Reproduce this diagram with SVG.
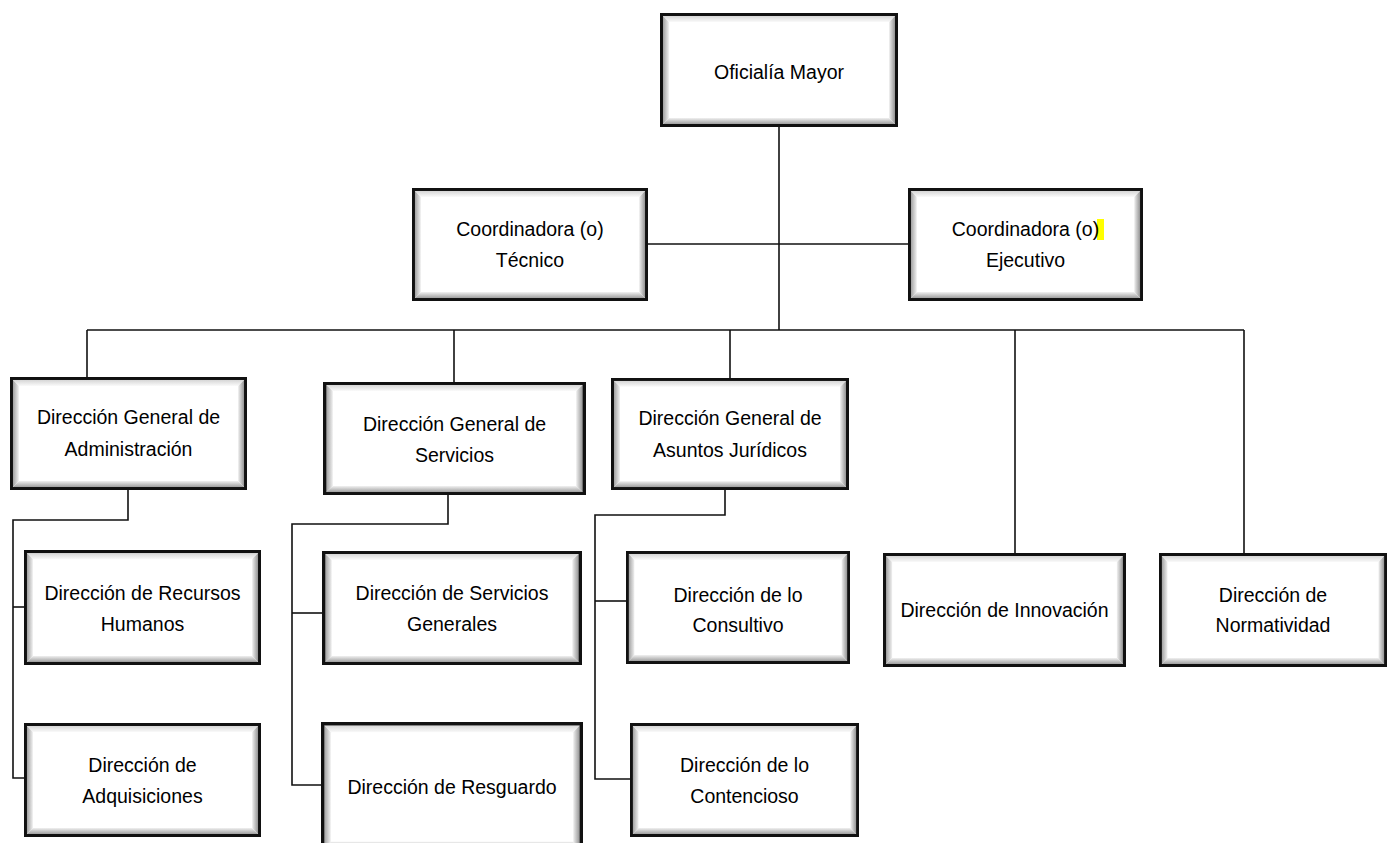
<svg xmlns="http://www.w3.org/2000/svg" xmlns:xlink="http://www.w3.org/1999/xlink" width="1388" height="843" viewBox="0 0 1388 843">
<defs>
<linearGradient id="gL" x1="0" y1="0" x2="1" y2="0"><stop offset="0" stop-color="#7a7a7a"/><stop offset="1" stop-color="#f0f0f0"/></linearGradient>
<linearGradient id="gR" x1="0" y1="0" x2="1" y2="0"><stop offset="0" stop-color="#f0f0f0"/><stop offset="1" stop-color="#666"/></linearGradient>
<linearGradient id="gT" x1="0" y1="0" x2="0" y2="1"><stop offset="0" stop-color="#c4c4c4"/><stop offset="1" stop-color="#fafafa"/></linearGradient>
<linearGradient id="gB" x1="0" y1="0" x2="0" y2="1"><stop offset="0" stop-color="#f0f0f0"/><stop offset="1" stop-color="#777"/></linearGradient>
<symbol id="box" viewBox="0 0 240 114" preserveAspectRatio="none">
<rect x="0" y="0" width="240" height="114" fill="#fff"/>
<polygon points="0,0 240,0 231,9 9,9" fill="url(#gT)"/>
<polygon points="0,0 9,9 9,105 0,114" fill="url(#gL)"/>
<polygon points="240,0 240,114 231,105 231,9" fill="url(#gR)"/>
<polygon points="0,114 240,114 231,105 9,105" fill="url(#gB)"/>
<rect x="1.5" y="1.5" width="237" height="111" fill="none" stroke="#111" stroke-width="3"/>
</symbol>
</defs>
<style>
.t{font-family:"Liberation Sans",Arial,sans-serif;font-size:19.5px;fill:#000;text-anchor:middle}
.c{fill:none;stroke:#111;stroke-width:1.6}
</style>
<rect width="1388" height="843" fill="#fff"/>
<g id="connectors" class="c">
<line x1="779" y1="127" x2="779" y2="330"/>
<line x1="648" y1="244" x2="908" y2="244"/>
<line x1="87" y1="330" x2="1244" y2="330"/>
<line x1="87" y1="330" x2="87" y2="377"/>
<line x1="454" y1="330" x2="454" y2="382"/>
<line x1="730" y1="330" x2="730" y2="378"/>
<line x1="1015" y1="330" x2="1015" y2="553"/>
<line x1="1244" y1="330" x2="1244" y2="553"/>
<polyline points="128,490 128,520 13,520 13,778 24,778"/>
<line x1="13" y1="607" x2="24" y2="607"/>
<polyline points="448,495 448,524 292,524 292,785 321,785"/>
<line x1="292" y1="613" x2="322" y2="613"/>
<polyline points="725,490 725,515 595,515 595,779 630,779"/>
<line x1="595" y1="601" x2="626" y2="601"/>
</g>
<g id="n1"><use xlink:href="#box" x="660" y="13" width="238" height="114"/><text class="t" x="779" y="79">Oficialía Mayor</text></g>
<g id="n2"><use xlink:href="#box" x="412" y="188" width="236" height="113"/><text class="t" x="530" y="236">Coordinadora (o)</text><text class="t" x="530" y="267">Técnico</text></g>
<g id="n3"><use xlink:href="#box" x="908" y="188" width="235" height="113"/><rect x="1097" y="219" width="7" height="21" fill="#ffff00"/><text class="t" x="1025.5" y="236">Coordinadora (o)</text><text class="t" x="1025.5" y="267">Ejecutivo</text></g>
<g id="n4"><use xlink:href="#box" x="10" y="377" width="237" height="113"/><text class="t" x="128.5" y="424">Dirección General de</text><text class="t" x="128.5" y="456">Administración</text></g>
<g id="n5"><use xlink:href="#box" x="323" y="382" width="263" height="113"/><text class="t" x="454.5" y="431">Dirección General de</text><text class="t" x="454.5" y="462">Servicios</text></g>
<g id="n6"><use xlink:href="#box" x="611" y="378" width="238" height="112"/><text class="t" x="730" y="425">Dirección General de</text><text class="t" x="730" y="457">Asuntos Jurídicos</text></g>
<g id="n7"><use xlink:href="#box" x="24" y="550" width="237" height="115"/><text class="t" x="142.5" y="600">Dirección de Recursos</text><text class="t" x="142.5" y="631">Humanos</text></g>
<g id="n8"><use xlink:href="#box" x="24" y="723" width="237" height="114"/><text class="t" x="142.5" y="772">Dirección de</text><text class="t" x="142.5" y="803">Adquisiciones</text></g>
<g id="n9"><use xlink:href="#box" x="322" y="551" width="260" height="114"/><text class="t" x="452" y="600">Dirección de Servicios</text><text class="t" x="452" y="631">Generales</text></g>
<g id="n10"><use xlink:href="#box" x="321" y="722" width="262" height="130"/><text class="t" x="452" y="794">Dirección de Resguardo</text></g>
<g id="n11"><use xlink:href="#box" x="626" y="551" width="224" height="113"/><text class="t" x="738" y="602">Dirección de lo</text><text class="t" x="738" y="632">Consultivo</text></g>
<g id="n12"><use xlink:href="#box" x="630" y="723" width="229" height="114"/><text class="t" x="744.5" y="772">Dirección de lo</text><text class="t" x="744.5" y="803">Contencioso</text></g>
<g id="n13"><use xlink:href="#box" x="883" y="553" width="243" height="114"/><text class="t" x="1004.5" y="617">Dirección de Innovación</text></g>
<g id="n14"><use xlink:href="#box" x="1159" y="553" width="228" height="114"/><text class="t" x="1273" y="602">Dirección de</text><text class="t" x="1273" y="632">Normatividad</text></g>
</svg>
